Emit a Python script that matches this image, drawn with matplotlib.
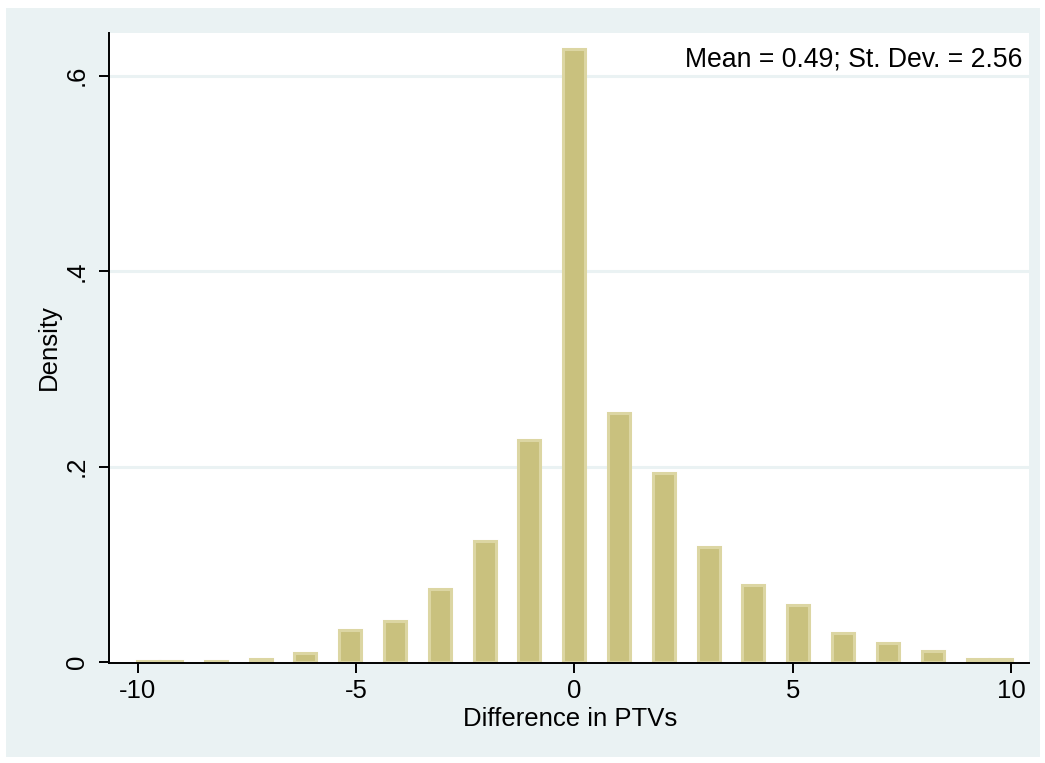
import matplotlib
matplotlib.use("Agg")
import matplotlib.pyplot as plt
from matplotlib.patches import Rectangle

plt.rcParams['font.family'] = ['Liberation Sans', 'DejaVu Sans']

# histogram bins (centres) and densities
bin_centers = [-9.76, -9.23, -8.21, -7.18, -6.16, -5.13, -4.10, -3.08, -2.05, -1.03,
               0.0, 1.03, 2.05, 3.08, 4.10, 5.13, 6.16, 7.18, 8.21, 9.23, 9.76]
density = [0.001, 0.001, 0.0015, 0.003, 0.0097, 0.033, 0.042, 0.075, 0.124, 0.227,
           0.627, 0.255, 0.193, 0.118, 0.079, 0.058, 0.030, 0.019, 0.0115, 0.003, 0.0036]
xticks = [-10, -5, 0, 5, 10]
yticks = [0, 0.2, 0.4, 0.6]
ytick_labels = ['0', '.2', '.4', '.6']
note = 'Mean = 0.49; St. Dev. = 2.56'

W, H = 1045, 763
bg = '#EAF2F3'
fs = 18.5
fig = plt.figure(figsize=(W / 100, H / 100), dpi=100)
fig.patch.set_facecolor('white')
fig.patches.append(Rectangle((6 / W, 1 - 757 / H), (1040 - 6) / W, (757 - 8) / H,
                             transform=fig.transFigure, facecolor=bg, edgecolor='none', zorder=-10))

ax = fig.add_axes([109 / W, 1 - 663 / H, (1029 - 109) / W, (663 - 33) / H])
ax.set_facecolor('white')

ax.bar(bin_centers, density, width=0.5, color='#C9C17E', edgecolor='#DCD6A3',
       linewidth=2.2, zorder=3)

ax.set_xlim(-10.655, 10.41)
ax.set_ylim(-0.001, 0.6438)
ax.set_xticks(xticks)
ax.set_xticklabels([str(t) for t in xticks])
ax.set_yticks(yticks)
ax.set_yticklabels(ytick_labels, rotation=90, va='center')
for y in yticks[1:]:
    ax.axhline(y, color=bg, linewidth=2.2, zorder=1)

for s in ['top', 'right']:
    ax.spines[s].set_visible(False)
for s in ['left', 'bottom']:
    ax.spines[s].set_linewidth(1.4)
    ax.spines[s].set_zorder(4)
ax.tick_params(axis='both', length=7.5, width=1.4, labelsize=fs, direction='out')
ax.tick_params(axis='x', pad=4)
ax.tick_params(axis='y', pad=7)

ax.text((1022 - 109) / 920, (663 - 66.7) / 630, note, transform=ax.transAxes,
        ha='right', va='baseline', fontsize=19.2, zorder=5)

fig.text(570 / W, 1 - 719 / H, 'Difference in PTVs', ha='center', va='center', fontsize=fs)
fig.text(49 / W, 1 - 347 / H, 'Density', ha='center', va='center', rotation=90, fontsize=fs)

fig.savefig('out.png', dpi=100, facecolor=fig.get_facecolor())
